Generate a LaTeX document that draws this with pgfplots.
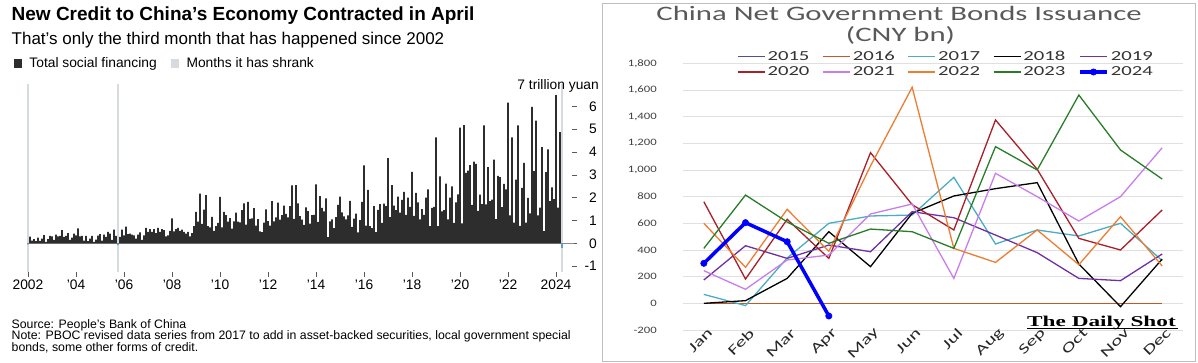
\documentclass[border=0pt]{standalone}
\usepackage{pgfplots}
\pgfplotsset{compat=1.18}
\usepackage{pgfplotstable}
\usepackage{fontspec}
\setmainfont{Liberation Sans}
\newfontfamily\calfont[FakeStretch=1.5]{Carlito}
\newfontfamily\calticks[FakeStretch=1.3]{Carlito}
\newfontfamily\dsfont[FakeStretch=1.55]{Liberation Serif}

\definecolor{barc}{RGB}{45,45,45}
\definecolor{shr}{RGB}{214,219,224}
\definecolor{negc}{RGB}{90,160,200}
\definecolor{c15}{RGB}{80,80,150}
\definecolor{c16}{RGB}{192,88,40}
\definecolor{c17}{RGB}{75,172,198}
\definecolor{c18}{RGB}{0,0,0}
\definecolor{c19}{RGB}{112,48,160}
\definecolor{c20}{RGB}{170,30,40}
\definecolor{c21}{RGB}{200,125,235}
\definecolor{c22}{RGB}{237,125,49}
\definecolor{c23}{RGB}{40,125,40}
\definecolor{c24}{RGB}{0,0,255}

\pgfplotstableread[row sep=\\]{
v\\
0\\0.29\\0.12\\0.18\\0.10\\0.25\\0.11\\0.20\\0.36\\0.06\\0.18\\0.33\\
0.30\\0.15\\0.38\\0.30\\0.32\\0.58\\0.28\\0.33\\0.45\\0.15\\0.25\\0.42\\
0.35\\0.65\\0.30\\0.33\\0.12\\0.32\\0.10\\0.20\\0.32\\0.06\\0.16\\0.34\\
0.40\\0.12\\0.38\\0.28\\0.50\\0.42\\0.15\\0.60\\0.32\\0\\0.28\\0.60\\
0.35\\0.73\\0.40\\0.42\\0.38\\0.35\\0.20\\0.38\\0.48\\0.15\\0.35\\0.68\\
0.50\\0.62\\0.50\\0.62\\0.45\\0.68\\0.50\\0.62\\0.58\\0.30\\0.35\\0.55\\
1.09\\0.52\\0.62\\0.68\\0.55\\0.60\\0.50\\0.42\\0.50\\0.30\\0.45\\0.75\\
1.38\\0.95\\2.18\\0.85\\1.48\\2.11\\0.75\\0.70\\1.16\\0.55\\0.75\\0.90\\
2.04\\0.70\\1.38\\1.23\\0.95\\1.10\\0.64\\0.96\\1.35\\0.95\\0.92\\1.45\\
1.75\\0.82\\1.82\\1.07\\1.09\\1.54\\0.77\\1.06\\0.52\\0.49\\0.91\\1.49\\
0.97\\0.78\\1.85\\0.96\\1.14\\1.78\\1.04\\1.24\\1.65\\1.29\\1.14\\1.63\\
2.54\\1.07\\2.55\\1.75\\1.19\\1.04\\0.81\\1.58\\1.41\\0.86\\1.23\\1.25\\
2.58\\0.94\\2.07\\1.55\\1.40\\1.97\\0.27\\0.96\\1.05\\0.66\\1.15\\1.69\\
2.05\\1.36\\1.18\\1.05\\1.22\\1.86\\0.72\\1.08\\1.30\\0.48\\1.02\\1.82\\
3.42\\0.78\\2.34\\0.75\\0.66\\1.63\\0.49\\1.47\\1.72\\0.90\\1.74\\1.63\\
3.74\\1.15\\2.55\\1.65\\1.45\\2.05\\1.35\\1.90\\2.25\\1.25\\2.00\\1.60\\
3.13\\1.20\\2.21\\1.80\\1.05\\1.50\\1.25\\2.00\\2.37\\0.75\\1.55\\1.60\\
4.64\\0.75\\2.94\\1.40\\1.45\\2.62\\1.05\\2.00\\2.50\\0.90\\1.80\\2.15\\
5.07\\0.87\\5.18\\3.09\\3.19\\3.43\\1.69\\3.58\\3.48\\1.42\\2.13\\1.72\\
5.17\\1.71\\3.34\\1.85\\1.92\\3.67\\1.06\\2.96\\2.90\\1.59\\2.61\\2.37\\
6.17\\1.22\\4.65\\0.91\\2.79\\5.17\\0.76\\2.43\\3.53\\0.91\\1.99\\1.31\\
5.98\\3.16\\5.38\\1.22\\1.56\\4.22\\0.53\\3.12\\4.12\\1.85\\2.45\\1.94\\
6.50\\1.56\\4.87\\0\\
}\tsf

\pgfplotstableread{
m y15 y16 y17 y18 y19 y20 y21 y22 y23
1 0 0 67 0 175 762 245 600 412
2 0 0 -17 20 432 182 105 270 812
3 0 0 340 187 337 630 325 705 610
4 0 0 600 537 437 337 362 390 450
5 0 0 655 275 387 1130 670 1030 557
6 0 0 662 675 687 740 745 1620 537
7 0 0 945 805 642 550 187 412 412
8 0 0 445 860 512 1375 975 307 1175
9 0 0 550 905 380 1005 800 550 1000
10 0 0 505 295 187 487 617 290 1562
11 0 0 600 -25 170 400 800 650 1150
12 0 0 320 332 370 700 1167 280 932
}\bonds

\pgfplotstableread{
m y24
1 300
2 605
3 462
4 -95
}\bondsb

\begin{document}
\begin{tikzpicture}[x=1pt,y=1pt]
\useasboundingbox (0,0) rectangle (1198,363);

% ---------------- left panel ----------------
\node[anchor=base west, inner sep=0pt, font=\bfseries\fontsize{19}{22}\selectfont] at (11.5,342.3) {New Credit to China's Economy Contracted in April};
\node[anchor=base west, inner sep=0pt, font=\fontsize{17}{20}\selectfont] at (11.5,318) {That's only the third month that has happened since 2002};

\begin{axis}[
  at={(24pt,91.2pt)}, anchor=south west, scale only axis,
  width=548pt, height=188.1pt,
  xmin=-2, xmax=272, ymin=-1.25, ymax=7,
  clip=false,
  axis line style={draw=none},
  xtick={0,24,...,264},
  xticklabels={2002,'04,'06,'08,'10,'12,'14,'16,'18,'20,'22,2024},
  ytick={-1,0,...,6},
  yticklabels={-1,0,1,2,3,4,5,6},
  xtick pos=bottom, ytick pos=right, yticklabel pos=right,
  tick align=outside, major tick length=5pt,
  tick style={draw=black!65, line width=0.6pt},
  xticklabel style={font=\fontsize{13.8}{16}\selectfont},
  yticklabel style={font=\fontsize{13.8}{16}\selectfont, anchor=east, inner sep=0pt, xshift=20pt},
  legend columns=2,
  legend style={draw=none, fill=none, inner sep=0pt, at={(-0.0193,1.110)}, anchor=west,
    font=\fontsize{13.8}{16}\selectfont,
    /tikz/every even column/.append style={column sep=12pt}},
]
\addlegendimage{legend image code/.code={\fill[barc] (0pt,-3.8pt) rectangle (7.6pt,3.8pt); \path (13.4pt,0pt);}}
\addlegendentry{Total social financing}
\addlegendimage{legend image code/.code={\fill[shr] (0pt,-3.8pt) rectangle (7.6pt,3.8pt); \path (13.4pt,0pt);}}
\addlegendentry{Months it has shrank}

\addplot[shr, line width=1.8pt, forget plot] coordinates {(0,-1.25) (0,7)};
\addplot[shr, line width=1.8pt, forget plot] coordinates {(45,-1.25) (45,7)};
\addplot[shr, line width=1.8pt, forget plot] coordinates {(267,-1.25) (267,7)};
\addplot[black!45, line width=0.6pt, forget plot] coordinates {(-0.5,0) (273,0)};
\addplot[ybar, bar width=1.55pt, fill=barc, draw=none, forget plot] table[x expr=\coordindex, y=v] {\tsf};
\addplot[ybar, bar width=1.55pt, fill=negc, draw=none, forget plot] coordinates {(0,-0.05) (45,-0.08) (267,-0.2)};
\end{axis}

\node[anchor=east, inner sep=0pt, font=\fontsize{13.8}{16}\selectfont] at (599,277.5) {7 trillion yuan};

\node[anchor=base west, inner sep=0pt, font=\fontsize{12.3}{12}\selectfont] at (11.5,34.7) {Source: People's Bank of China};
\node[anchor=base west, inner sep=0pt, font=\fontsize{12.3}{12}\selectfont] at (11.5,23) {Note: PBOC revised data series from 2017 to add in asset-backed securities, local government special};
\node[anchor=base west, inner sep=0pt, font=\fontsize{12.3}{12}\selectfont] at (11.5,11.3) {bonds, some other forms of credit.};

% ---------------- right panel ----------------
\draw[black!25, line width=0.8pt] (602,359.7) rectangle (1195,1.3);
\node[anchor=base, inner sep=0pt, text=black!65, font=\calfont\fontsize{20.5}{22}\selectfont] at (899,342.3) {China Net Government Bonds Issuance};
\node[anchor=base, inner sep=0pt, text=black!65, font=\calfont\fontsize{20.5}{22}\selectfont] at (900.5,321.3) {(CNY bn)};

\begin{axis}[
  at={(683pt,33pt)}, anchor=south west, scale only axis,
  width=500pt, height=266.7pt,
  xmin=0.5, xmax=12.5, ymin=-200, ymax=1800,
  axis line style={draw=none},
  tick style={draw=none},
  ytick={-200,0,...,1800},
  yticklabels={-200,0,200,400,600,800,{1,000},{1,200},{1,400},{1,600},{1,800}},
  ymajorgrids, grid style={draw=black!12, line width=0.8pt},
  xtick={1,...,12},
  xticklabels={Jan,Feb,Mar,Apr,May,Jun,Jul,Aug,Sep,Oct,Nov,Dec},
  xticklabel style={rotate=45, anchor=east, inner sep=0pt, yshift=-5pt, xshift=4pt, text=black!85,
    font=\calfont\fontsize{14}{15}\selectfont},
  yticklabel style={anchor=east, inner sep=0pt, xshift=-26pt, text=black!75,
    font=\calticks\fontsize{9.8}{11}\selectfont},
  legend columns=5,
  legend style={draw=none, fill=none, inner sep=0pt, at={(0.108,1.055)}, anchor=north west,
    font=\calfont\fontsize{13.8}{15}\selectfont, text=black!80,
    /tikz/every even column/.append style={column sep=11pt},
    row sep=1pt},
  legend image code/.code={\draw[mark repeat=2,mark phase=2,#1] plot coordinates {(0pt,0pt) (13.5pt,0pt) (27pt,0pt)};},
]
\addplot[c15, line width=1.3pt] table[x=m, y=y15] {\bonds}; \addlegendentry{2015}
\addplot[c16, line width=1.3pt] table[x=m, y=y16] {\bonds}; \addlegendentry{2016}
\addplot[c17, line width=1.3pt] table[x=m, y=y17] {\bonds}; \addlegendentry{2017}
\addplot[c18, line width=1.3pt] table[x=m, y=y18] {\bonds}; \addlegendentry{2018}
\addplot[c19, line width=1.3pt] table[x=m, y=y19] {\bonds}; \addlegendentry{2019}
\addplot[c20, line width=1.3pt] table[x=m, y=y20] {\bonds}; \addlegendentry{2020}
\addplot[c21, line width=1.3pt] table[x=m, y=y21] {\bonds}; \addlegendentry{2021}
\addplot[c22, line width=1.3pt] table[x=m, y=y22] {\bonds}; \addlegendentry{2022}
\addplot[c23, line width=1.3pt] table[x=m, y=y23] {\bonds}; \addlegendentry{2023}
\addplot[c24, line width=3.5pt, mark=*, mark size=3.2pt, mark options={fill=c24, draw=c24, line width=0.5pt}] table[x=m, y=y24] {\bondsb}; \addlegendentry{2024}
\end{axis}

\node[anchor=base west, inner sep=0pt, font=\dsfont\bfseries\fontsize{15}{16}\selectfont] at (1027,36.3) {The Daily Shot};
\draw[black, line width=0.8pt] (1027,34.5) -- (1178,34.5);
\end{tikzpicture}
\end{document}
